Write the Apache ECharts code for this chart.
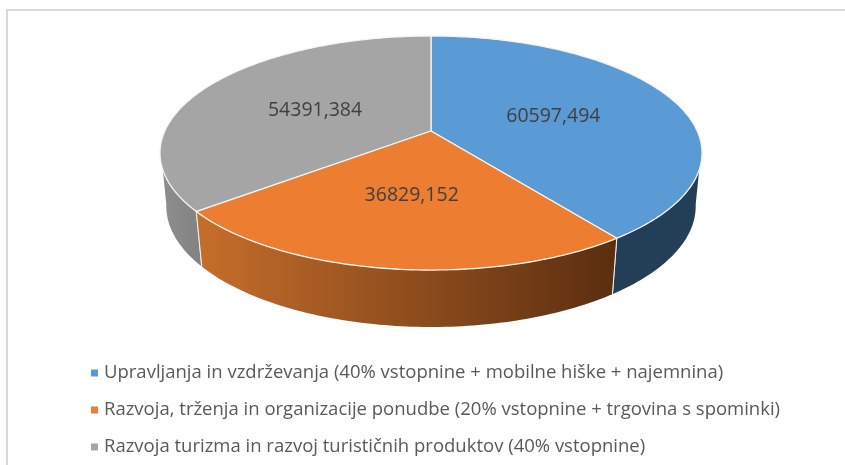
<!DOCTYPE html>
<html><head><meta charset="utf-8">
<style>html,body{margin:0;padding:0;background:#fff}#c{width:845px;height:465px}</style>
<script src="https://cdn.jsdelivr.net/npm/echarts@6/dist/echarts.min.js"></script>
</head><body><div id="c"></div>
<script>
const categories = [
  'Upravljanja in vzdrževanja (40% vstopnine + mobilne hiške + najemnina)',
  'Razvoja, trženja in organizacije ponudbe (20% vstopnine + trgovina s spominki)',
  'Razvoja turizma in razvoj turističnih produktov (40% vstopnine)'
];
const values = [60597.494, 36829.152, 54391.384];
const valueLabels = ['60597,494', '36829,152', '54391,384'];
const topColors = ['#5B9BD5', '#ED7D31', '#A5A5A5'];

const total = values.reduce((a, b) => a + b, 0);
const RAD = Math.PI / 180;
const K = 0.188;
const TOP = { cx: 431, cy: 131, a: 266.2, b: 112.9 };
const BOT = { cx: 431, cy: 183.5, a: 260, b: 116.5 };

// perspective projection of a point of the tilted disc, angle clockwise from 12 o'clock
function proj(d, deg, f) {
  const s = Math.sin(deg * RAD) * f, c = Math.cos(deg * RAD) * f, w = 1 + K * c;
  return [d.cx + d.a * s / w, d.cy - d.b * c / w];
}
function arc(d, from, to) {
  const pts = [], n = Math.max(2, Math.ceil(Math.abs(to - from)));
  for (let i = 0; i <= n; i++) pts.push(proj(d, from + (to - from) * i / n, 1));
  return pts;
}
function startAngle(i) {
  let s = 0;
  for (let j = 0; j < i; j++) s += values[j];
  return s / total * 360;
}
function sideStyle(i) {
  if (i === 1) return new echarts.graphic.LinearGradient(0, 0, 1, 0, [
    { offset: 0, color: '#C66E2B' }, { offset: 1, color: '#5A2E10' }]);
  if (i === 0) return '#233F58';
  return new echarts.graphic.LinearGradient(0, 0, 1, 0, [
    { offset: 0, color: '#8E8E8E' }, { offset: 1, color: '#828282' }]);
}
// visible side wall range: silhouette on the top disc and on the bottom disc
const SIL_TOP = [108.9, 251.1], SIL_BOT = [100, 260];
function sidePoints(from, to) {
  const topA = Math.max(from, SIL_TOP[0]), topB = Math.min(to, SIL_TOP[1]);
  if (topB <= topA) return null;
  const botA = from < SIL_TOP[0] ? SIL_BOT[0] : from;
  const botB = to > SIL_TOP[1] ? SIL_BOT[1] : to;
  return arc(TOP, topA, topB).concat(arc(BOT, botB, botA));
}
function renderSlice(i) {
  const from = startAngle(i), to = from + values[i] / total * 360;
  const children = [];
  const side = sidePoints(from, to);
  if (side) children.push({ type: 'polygon', z2: 1, shape: { points: side }, style: { fill: sideStyle(i) } });
  [from, to].forEach(t => {
    if (t > SIL_TOP[0] && t < SIL_TOP[1]) children.push({
      type: 'line', z2: 2,
      shape: { x1: proj(TOP, t, 1)[0], y1: proj(TOP, t, 1)[1], x2: proj(BOT, t, 1)[0], y2: proj(BOT, t, 1)[1] },
      style: { stroke: '#F2F2F2', lineWidth: 1 }
    });
  });
  children.push({
    type: 'polygon', z2: 3,
    shape: { points: [[TOP.cx, TOP.cy]].concat(arc(TOP, from, to)) },
    style: { fill: topColors[i], stroke: '#F5F5F5', lineWidth: 1.3, lineJoin: 'round' }
  });
  const m = proj(TOP, (from + to) / 2, 0.5);
  children.push({
    type: 'text', z2: 5, x: m[0] - 0.5, y: m[1] + 3,
    style: { text: valueLabels[i], fill: '#404040', font: '19.5px "Open Sans", sans-serif', align: 'center', verticalAlign: 'middle' }
  });
  return { type: 'group', children };
}
const chart = echarts.init(document.getElementById('c'), null, { renderer: 'canvas' });
chart.setOption({
  animation: false,
  backgroundColor: '#fff',
  graphic: [{ type: 'rect', silent: true, shape: { x: 7, y: 10, width: 900, height: 500 }, style: { fill: 'none', stroke: '#D9D9D9', lineWidth: 2 } }],
  legend: {
    show: true, orient: 'vertical', left: 86, top: 358.5, height: 200, itemWidth: 7, itemHeight: 7, itemGap: 18, icon: 'rect',
    data: categories,
    textStyle: { color: '#595959', fontSize: 18.5, fontFamily: '"Open Sans", sans-serif', height: 19, lineHeight: 19, padding: [0, 0, 0, 1] }
  },
  series: categories.map((name, i) => ({
    type: 'custom', name, coordinateSystem: 'none', silent: true,
    z: i === 1 ? 3 : 2,
    itemStyle: { color: topColors[i] },
    data: [values[i]],
    renderItem: () => renderSlice(i)
  }))
});
</script></body></html>
